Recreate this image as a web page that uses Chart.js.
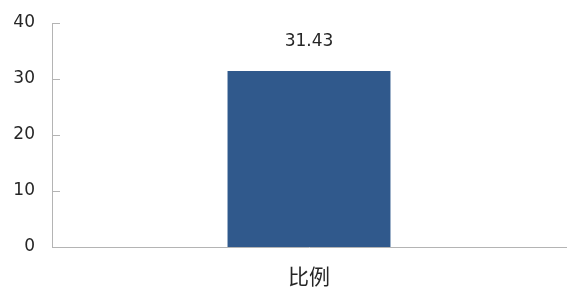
<!DOCTYPE html>
<html>
<head>
<meta charset="utf-8">
<script src="https://cdn.jsdelivr.net/npm/chart.js@4/dist/chart.umd.min.js"></script>
<style>
  html, body { margin: 0; padding: 0; background: #fff; }
  #wrap { width: 567px; height: 291px; }
</style>
</head>
<body>
<div id="wrap"><canvas id="myChart" width="567" height="291"></canvas></div>
<script>
// chart data
const categories = ['比例'];
const values = [31.43];
const yTicks = [0, 10, 20, 30, 40];

const fontFamily = '"DejaVu Sans", "Noto Sans CJK SC", sans-serif';
const axisColor = '#b4b4b4';

// small inward tick marks on the y axis + value label above the bar
const extras = {
    id: 'extras',
    afterDraw(chart) {
        const ctx = chart.ctx;
        const y = chart.scales.y;
        const left = chart.chartArea.left;
        ctx.save();
        ctx.strokeStyle = axisColor;
        ctx.lineWidth = 1;
        yTicks.forEach(v => {
            const py = Math.round(y.getPixelForValue(v)) + 0.5;
            ctx.beginPath();
            ctx.moveTo(left, py);
            ctx.lineTo(left + 8, py);
            ctx.stroke();
        });
        const meta = chart.getDatasetMeta(0);
        ctx.fillStyle = '#262626';
        ctx.font = '17px ' + fontFamily;
        ctx.textAlign = 'center';
        ctx.textBaseline = 'middle';
        meta.data.forEach((bar, i) => {
            ctx.fillText(values[i].toFixed(2), bar.x, bar.y - 29);
        });
        ctx.restore();
    }
};

new Chart(document.getElementById('myChart').getContext('2d'), {
    type: 'bar',
    data: {
        labels: categories,
        datasets: [{
            data: values,
            backgroundColor: '#30598c',
            borderWidth: 0,
            barPercentage: 0.317,
            categoryPercentage: 1
        }]
    },
    options: {
        responsive: false,
        animation: false,
        plugins: { legend: { display: false }, tooltip: { enabled: false } },
        layout: { padding: { top: 23, right: 1, left: 0, bottom: 0 } },
        scales: {
            y: {
                min: 0,
                max: 40,
                afterBuildTicks: s => { s.ticks = yTicks.map(v => ({ value: v })); },
                afterFit: s => { s.width = 52; s.paddingTop = 0; s.paddingBottom = 0; },
                grid: { display: false },
                border: { display: true, color: axisColor, width: 1 },
                ticks: { padding: 9, color: '#262626', font: { family: fontFamily, size: 17 } }
            },
            x: {
                afterFit: s => { s.height = 44; s.paddingLeft = 0; s.paddingRight = 0; },
                grid: { display: false },
                border: { display: true, color: axisColor, width: 1 },
                ticks: { padding: 8, color: '#262626', font: { family: '"Noto Sans CJK SC", sans-serif', size: 21 } }
            }
        }
    },
    plugins: [extras]
});
</script>
</body>
</html>
